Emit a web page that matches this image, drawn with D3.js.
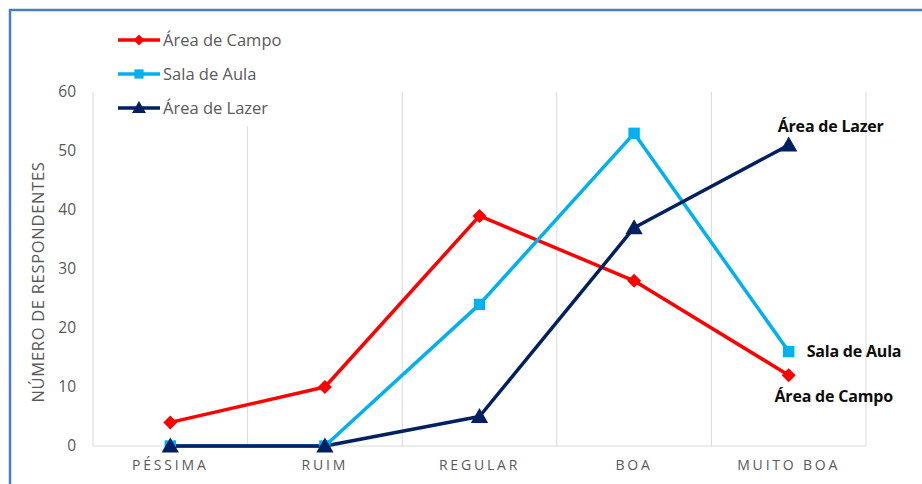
<!DOCTYPE html>
<html><head><meta charset="utf-8">
<script src="https://cdn.jsdelivr.net/npm/d3@7"></script>
<style>body{margin:0;background:#fff}svg{display:block}</style>
</head><body>
<svg id="c" width="922" height="484"></svg>
<script>
const categories = ["PÉSSIMA", "RUIM", "REGULAR", "BOA", "MUITO BOA"];
const seriesNames = ["Área de Campo", "Sala de Aula", "Área de Lazer"];
const areaCampo = [4, 10, 39, 28, 12];
const salaAula = [0, 0, 24, 53, 16];
const areaLazer = [0, 0, 5, 37, 51];
const yTicks = [0, 10, 20, 30, 40, 50, 60];
const colors = ["#ff0000", "#00b0f0", "#002060"];
const symbols = [d3.symbolDiamond2, d3.symbolSquare, d3.symbolTriangle];
const values = [areaCampo, salaAula, areaLazer];

const svg = d3.select("#c");
const L = 93, R = 866, T = 92, B = 446;
const xb = d3.scaleBand().domain(categories).range([L, R]);
const x = c => xb(c) + xb.bandwidth() / 2;
const y = d3.scaleLinear().domain([0, 60]).range([B, T]);
const FONT = "Open Sans, sans-serif";

// border
svg.append("path").attr("d", `M10,484 L10,10 L922,10`).attr("fill", "none")
  .attr("stroke", "#4a7ebf").attr("stroke-width", 2.5);

// vertical gridlines
const bounds = categories.map(c => xb(c)).concat([R]);
svg.append("g").selectAll("line").data(bounds).join("line")
  .attr("x1", d => d).attr("x2", d => d).attr("y1", T).attr("y2", B)
  .attr("stroke", "#d9d9d9").attr("stroke-width", 1);
svg.append("line").attr("x1", L).attr("x2", R).attr("y1", B).attr("y2", B)
  .attr("stroke", "#d9d9d9").attr("stroke-width", 1.2);

// y axis labels
const yAxis = d3.axisLeft(y).tickValues(yTicks).tickSize(0).tickPadding(0);
const gy = svg.append("g").attr("transform", `translate(${L - 17},0)`).call(yAxis);
gy.select(".domain").remove();
gy.selectAll("text").attr("font-family", FONT).attr("font-size", 15.5).attr("fill", "#595959");

// x axis labels
const xAxis = d3.axisBottom(xb).tickSize(0).tickPadding(0);
const gx = svg.append("g").attr("transform", `translate(0,${B + 14})`).call(xAxis);
gx.select(".domain").remove();
gx.selectAll("text").attr("font-family", FONT).attr("font-size", 14)
  .attr("fill", "#595959").attr("letter-spacing", "2.8px").attr("dy", "0.71em");

// y title
svg.append("text").attr("transform", `translate(44,${282}) rotate(-90)`)
  .attr("text-anchor", "middle").attr("font-family", FONT)
  .attr("font-size", 16.5).attr("fill", "#595959").attr("letter-spacing", "0.7px")
  .text("NÚMERO DE RESPONDENTES");

// legend
svg.append("rect").attr("x", 110).attr("y", 22).attr("width", 185).attr("height", 104).attr("fill", "#fff");
const legY = [40, 74, 108];
seriesNames.forEach((n, i) => {
  const g = svg.append("g");
  g.append("line").attr("x1", 118).attr("x2", 160).attr("y1", legY[i]).attr("y2", legY[i])
    .attr("stroke", colors[i]).attr("stroke-width", 3.5);
  g.append("path").attr("d", d3.symbol(symbols[i], i === 0 ? 75 : 85)())
    .attr("transform", `translate(139,${legY[i] + (i === 2 ? 1 : 0)})`).attr("fill", colors[i]);
  g.append("text").attr("x", 163).attr("y", legY[i]).attr("dy", "0.35em")
    .attr("font-family", FONT).attr("font-size", 16.5).attr("fill", "#595959")
    .text(n);
});

// lines and markers
const line = d3.line().x((d, i) => x(categories[i])).y(d => y(d));
values.forEach((vals, s) => {
  svg.append("path").datum(vals).attr("d", line).attr("fill", "none")
    .attr("stroke", colors[s]).attr("stroke-width", 3.5).attr("stroke-linejoin", "round");
});
values.forEach((vals, s) => {
  svg.append("g").selectAll("path").data(vals).join("path")
    .attr("d", d3.symbol(symbols[s], s === 0 ? 125 : 130)())
    .attr("transform", (d, i) => `translate(${x(categories[i])},${y(d) + (s === 2 ? 1.5 : 0)})`)
    .attr("fill", colors[s]);
});

// end labels
const lastX = x(categories[4]);
const endLabels = [
  {t: seriesNames[0], dx: 45, dy: 21, anchor: "middle"},
  {t: seriesNames[1], dx: 18, dy: 0, anchor: "start"},
  {t: seriesNames[2], dx: 42, dy: -19, anchor: "middle"}
];
endLabels.forEach((l, s) => {
  svg.append("text").attr("x", lastX + l.dx).attr("y", y(values[s][4]) + l.dy).attr("dy", "0.35em")
    .attr("text-anchor", l.anchor).attr("font-family", FONT)
    .attr("font-weight", "bold").attr("font-size", 16).attr("fill", "#0d0d0d")
    .attr("letter-spacing", "-0.2px").text(l.t);
});
</script>
</body></html>
